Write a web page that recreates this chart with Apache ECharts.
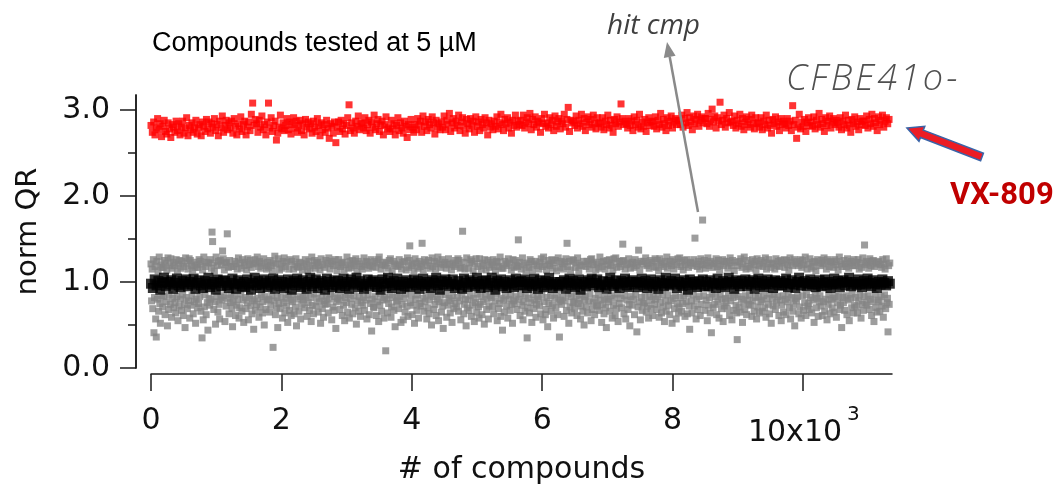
<!DOCTYPE html>
<html><head><meta charset="utf-8">
<script src="https://cdn.jsdelivr.net/npm/echarts@6/dist/echarts.min.js"></script>
<style>html,body{margin:0;padding:0;background:#fff}#c{width:1057px;height:484px}</style>
</head><body><div id="c"></div>
<script>
// ---- data (each plotted sample stands for a run of compounds) ----
const titleText = 'Compounds tested at 5 \u00b5M';
const xName = '# of compounds';
const yName = 'norm QR';
const xTickValues = [0, 2000, 4000, 6000, 8000, 10000];
const xTickLabels = ['0', '2', '4', '6', '8', '10x10^3'];
const yTickValues = [0, 1, 2, 3];
const yMinorTickValues = [0.5, 1.5, 2.5];
const xMax = 11365;
const yMax = 3.174;

// compounds between consecutive plotted samples
const redSampleStep = 20.25;
const graySampleStep = 9.0;
const blackSampleStep = 28.4;

// VX-809 (positive control) normalized QR, in hundredths
const redQRx100 = [
282,274,286,271,279,290,277,284,269,281,288,275,272,285,278,268,283,280,274,287,
276,284,271,280,287,273,279,291,270,282,277,285,274,280,288,272,279,283,270,286,
281,275,289,278,286,273,284,280,290,276,283,270,287,279,293,274,282,288,277,285,
279,287,273,290,281,271,284,278,292,275,283,287,271,280,286,276,295,308,282,289,
284,274,288,280,293,277,283,271,286,308,279,291,275,282,287,265,273,280,294,278,
285,276,282,290,277,286,272,283,291,279,287,274,282,288,276,284,271,289,280,286,
278,284,273,287,280,275,290,282,270,285,277,283,274,288,279,267,284,281,273,286,
262,280,286,275,288,278,284,272,282,291,306,276,285,279,273,287,281,293,277,284,
285,279,291,276,283,288,273,286,280,294,277,284,289,275,282,287,271,283,292,278,
280,275,288,278,284,271,282,291,276,285,279,273,287,281,268,283,277,289,280,274,
283,277,290,282,287,274,293,281,286,276,289,283,279,292,285,272,288,280,284,277,
286,280,293,277,288,283,296,275,285,290,279,287,282,294,276,286,291,281,273,289,
284,278,290,282,287,274,292,281,286,276,289,283,279,291,285,271,288,280,284,277,
287,281,292,278,285,295,283,276,289,284,291,279,286,273,288,282,294,280,287,283,
288,282,294,279,286,291,284,296,277,289,283,292,280,287,285,274,290,284,295,281,
285,279,291,283,288,276,293,281,286,290,278,287,284,295,280,289,303,275,288,285,
287,282,293,279,288,284,295,281,290,276,286,292,283,289,280,294,285,278,291,284,
285,280,291,277,287,283,294,279,288,282,274,289,284,292,281,286,307,290,283,287,
284,279,290,282,287,276,292,283,288,280,295,278,286,281,289,275,285,291,282,287,
286,281,292,278,288,283,296,280,289,284,276,291,282,287,293,279,286,290,283,288,
288,283,294,280,290,285,297,282,291,286,277,293,284,289,295,281,288,292,285,290,
290,284,296,281,289,301,286,293,279,291,287,309,283,288,294,280,290,285,297,286,
287,282,293,279,288,284,295,281,290,277,286,292,283,289,280,294,285,278,291,284,
285,280,291,277,287,283,294,279,288,282,273,289,284,292,281,286,276,290,283,287,
284,279,290,282,287,276,305,283,288,267,280,295,278,286,281,289,275,285,291,282,
286,281,292,278,288,283,296,280,289,284,275,291,282,287,293,279,286,290,283,288,
285,280,291,277,287,283,294,279,288,282,274,289,284,292,281,286,277,290,283,287,
287,282,293,279,289,284,295,281,290,285,276,292,283,288,294,280,287,291,284,289
];

// tested compounds normalized QR, in hundredths (values hidden under the control band omitted)
const grayQRx100 = [
121,78,115,69,126,41,82,118,57,36,124,80,113,66,129,75,52,120,84,117,
71,117,83,125,62,122,77,114,49,128,68,85,119,74,127,59,116,81,123,70,
119,76,64,126,83,113,55,121,72,125,80,116,67,124,85,61,118,74,47,128,
82,122,69,115,78,127,58,125,73,119,84,114,63,123,77,117,52,80,120,70,
117,75,126,83,124,66,121,35,114,56,129,71,85,118,62,123,76,44,122,81,
73,126,80,116,158,147,122,68,113,77,51,129,83,119,65,124,74,57,125,82,
120,79,136,127,84,114,54,122,72,123,156,81,117,63,125,76,85,118,69,48,
77,118,84,124,61,121,73,115,80,128,58,70,122,86,116,66,126,79,53,119,
123,82,69,114,76,127,56,120,84,125,72,117,63,80,121,45,78,126,67,122,
74,129,81,118,59,124,71,116,85,122,64,77,127,50,83,119,68,115,79,123,
117,80,65,125,73,119,84,113,24,122,78,130,62,121,70,82,47,127,75,114,
69,121,83,116,58,124,76,128,64,118,81,72,123,53,85,115,67,126,79,61,
124,77,85,115,63,120,71,127,49,118,80,117,66,123,83,57,122,74,114,82,
79,118,70,126,84,121,60,113,76,124,67,116,82,54,129,73,119,63,86,125,
116,72,122,81,123,65,119,77,114,52,127,84,69,120,59,78,117,74,125,83,
75,122,64,128,80,115,86,121,56,124,71,119,67,83,126,46,77,113,81,120,
126,79,68,118,84,122,61,123,73,114,55,82,120,76,129,65,85,116,58,124,
81,117,74,125,63,121,84,119,70,127,51,113,78,124,66,83,121,60,76,118,
115,73,82,128,67,120,79,124,57,123,85,116,62,119,75,126,43,80,118,71,
70,124,83,117,61,122,77,126,54,129,73,86,115,66,120,79,123,58,82,119,
20,122,80,64,116,75,125,85,127,59,71,113,82,124,67,121,48,119,77,84,
78,118,69,126,83,120,53,115,74,123,56,81,124,65,86,114,72,128,60,117,
125,142,76,84,119,62,121,73,113,52,127,80,122,67,85,116,58,124,75,118,
72,121,145,81,114,66,126,77,123,84,57,119,70,125,63,79,116,86,50,128,
118,83,68,124,74,115,61,122,80,129,55,77,121,85,117,65,126,72,46,120,
76,123,85,116,59,121,73,127,81,120,64,78,114,53,84,122,69,118,75,125,
120,71,82,127,66,125,78,116,56,117,85,159,123,63,74,115,80,49,128,70,
79,116,67,122,84,126,60,124,73,113,81,54,121,76,127,65,86,118,71,58,
127,74,83,115,62,122,77,119,51,126,85,114,68,80,125,57,72,117,84,123,
82,120,71,126,63,118,78,113,86,124,55,123,69,118,75,129,60,81,116,44,
116,79,65,124,84,121,72,119,58,127,80,122,67,85,114,74,52,126,78,117,
75,125,83,119,68,118,149,80,123,61,86,115,73,128,56,77,120,66,84,113,
122,35,70,81,117,64,126,76,124,53,114,85,121,69,79,124,59,74,119,83,
80,115,72,123,63,127,85,118,56,129,77,120,62,68,114,82,48,125,75,121,
119,84,66,126,73,116,58,122,81,125,70,113,85,62,128,77,36,117,79,124,
74,121,82,115,60,123,78,127,67,145,118,86,52,124,71,114,83,64,126,76,
125,77,69,117,84,122,61,128,75,113,80,120,57,72,119,85,66,124,50,79,
83,118,71,124,64,121,78,115,86,126,55,127,68,120,76,123,62,81,114,73,
121,72,85,116,67,129,79,123,53,118,74,124,63,82,115,70,47,125,80,120,
77,126,66,119,84,122,58,114,73,127,81,61,128,69,117,86,54,121,75,124,
118,81,70,124,144,125,63,84,115,57,120,79,122,68,127,74,49,116,83,121,
73,123,80,117,62,126,85,119,42,122,71,137,77,114,56,124,82,67,121,75,
124,76,84,128,65,119,72,121,58,116,83,125,69,79,123,61,86,118,74,127,
80,117,68,125,83,113,59,127,76,120,64,122,85,71,118,54,124,78,66,129,
116,85,73,121,62,124,78,119,52,126,81,115,69,123,84,57,120,75,127,64,
71,128,82,118,66,123,75,114,84,125,60,120,77,126,63,86,117,72,45,122,
123,78,64,119,85,126,72,151,121,57,80,118,68,124,83,115,61,127,74,120,
172,120,84,125,67,116,79,122,55,128,73,119,82,64,124,41,86,117,70,121,
122,74,83,127,62,118,77,125,58,114,85,121,69,80,126,54,119,72,124,81,
76,124,69,116,84,122,61,128,78,119,56,125,82,67,113,85,123,73,64,33,
119,83,71,124,65,127,80,117,53,121,76,129,68,84,115,62,125,79,118,74,
85,116,73,122,60,126,78,120,66,124,82,114,57,127,71,83,119,64,121,77,
125,79,66,118,84,123,70,128,59,115,81,121,74,126,63,86,117,52,122,80,
72,121,85,115,68,127,76,119,83,124,61,118,79,125,55,73,122,84,65,126,
117,80,62,125,77,120,85,114,70,128,57,123,82,119,66,74,126,49,81,121,
78,124,83,119,63,122,71,126,58,117,84,125,67,120,76,129,61,85,115,72,
121,75,68,127,82,116,64,123,79,118,53,124,86,113,70,81,126,60,122,77,
84,119,72,125,61,121,77,128,66,123,80,115,56,126,74,85,118,63,124,79,
123,70,81,117,65,126,83,120,59,124,76,114,84,129,68,73,121,47,118,82,
76,125,67,121,84,118,62,127,79,116,55,122,81,124,70,86,119,64,126,73,
119,82,71,123,64,126,78,115,85,122,58,117,74,128,67,83,143,120,76,124,
73,122,84,116,68,127,80,119,61,124,77,125,54,118,85,70,121,65,123,79,
124,77,66,120,83,117,72,126,59,121,85,115,69,127,76,81,42,119,74,122
];

// DMSO (negative control) normalized QR, in hundredths
const blackQRx100 = [
98,93,103,96,101,91,99,105,95,100,97,102,92,99,104,96,94,101,98,103,
95,100,97,104,92,99,102,96,93,101,98,105,94,97,100,91,103,99,95,102,
101,96,93,99,104,97,92,102,98,95,100,94,103,97,91,99,105,96,101,93,
97,103,99,94,101,96,104,92,98,102,95,100,93,97,103,99,91,101,96,104,
99,94,102,97,92,100,105,95,98,103,93,99,101,96,91,104,97,100,94,102,
96,101,93,98,104,95,100,92,103,97,99,105,94,101,96,92,98,103,95,100,
102,97,94,100,91,103,98,95,105,99,93,101,96,104,97,92,100,95,102,98,
94,99,103,96,101,92,98,104,95,100,97,93,102,99,105,96,91,101,97,103,
100,95,98,103,93,97,101,96,92,104,99,94,102,97,100,95,105,98,93,101,
97,102,94,99,105,96,91,101,98,103,95,100,93,97,102,99,94,104,96,100,
101,96,103,93,98,100,95,104,97,92,102,99,94,101,96,105,98,93,100,97,
95,100,97,102,92,99,104,96,101,94,98,103,91,100,97,95,102,99,104,96,
99,103,94,97,101,96,92,100,105,98,95,102,97,93,101,99,104,96,94,100,
102,97,100,94,99,104,96,101,93,98,103,95,100,97,92,102,99,95,105,98,
96,101,98,104,93,100,97,95,102,99,91,103,96,100,98,94,101,97,103,95,
100,95,102,97,99,93,104,98,96,101,94,99,105,97,100,92,102,98,95,101,
98,103,95,100,97,102,92,99,104,96,101,94,98,103,97,100,93,102,99,96,
101,96,99,104,94,98,102,97,93,100,105,96,99,101,95,98,103,97,100,94,
97,102,95,99,103,96,100,93,98,104,97,101,94,99,102,96,100,105,95,98,
100,96,103,98,94,101,97,104,99,95,102,98,93,100,97,103,99,96,101,98
];

// ---- chart ----
const toPairs = (arr, step) => arr.map((v, i) => [i * step, v / 100]);
const AX = '#1a1a1a';
const FONT = 'DejaVu Sans';
const TXT = '#111';

const chart = echarts.init(document.getElementById('c'), null, {renderer: 'canvas'});
chart.setOption({
  animation: false,
  backgroundColor: '#ffffff',
  grid: {left: 151, right: 165, top: 95, bottom: 116, containLabel: false, outerBoundsMode: 'none'},
  xAxis: {
    type: 'value', min: 0, max: xMax, offset: 6, position: 'bottom',
    axisLine: {onZero: false, lineStyle: {color: AX, width: 1.5}},
    axisTick: {length: 17, customValues: xTickValues, lineStyle: {color: AX, width: 1.5}},
    axisLabel: {show: false},
    splitLine: {show: false},
    name: xName, nameLocation: 'middle', nameGap: 81,
    nameTextStyle: {fontFamily: FONT, fontSize: 30, color: TXT}
  },
  yAxis: [{
    type: 'value', min: 0, max: yMax, offset: 15, position: 'left',
    axisLine: {onZero: false, lineStyle: {color: AX, width: 1.5}},
    axisTick: {length: 16, customValues: yTickValues, lineStyle: {color: AX, width: 1.5}},
    axisLabel: {customValues: yTickValues, margin: 26, fontFamily: FONT, fontSize: 30, color: TXT,
      formatter: v => v.toFixed(1)},
    splitLine: {show: false},
    name: yName, nameLocation: 'middle', nameGap: 93,
    nameTextStyle: {fontFamily: FONT, fontSize: 29, color: TXT}
  }, {
    type: 'value', min: 0, max: yMax, offset: 15, position: 'left',
    axisLine: {show: true, onZero: false, lineStyle: {color: AX, width: 1.5}},
    axisTick: {length: 8, customValues: yMinorTickValues, lineStyle: {color: AX, width: 1.5}},
    axisLabel: {show: false},
    splitLine: {show: false}
  }],
  series: [
    {type: 'scatter', name: 'tested', data: toPairs(grayQRx100, graySampleStep), symbol: 'rect', symbolSize: 7,
     itemStyle: {color: '#858585'}, z: 2},
    {type: 'scatter', name: 'DMSO', data: toPairs(blackQRx100, blackSampleStep), symbol: 'rect', symbolSize: 10,
     itemStyle: {color: '#000000'}, z: 3},
    {type: 'scatter', name: 'VX-809', data: toPairs(redQRx100, redSampleStep), symbol: 'rect', symbolSize: 7,
     itemStyle: {color: '#ff0000'}, z: 4}
  ]
});

// x tick labels placed at the axis's own tick positions
const y0 = chart.convertToPixel({yAxisIndex: 0}, 0);
const tickText = [];
xTickValues.forEach((v, i) => {
  const px = chart.convertToPixel({xAxisIndex: 0}, v);
  const parts = xTickLabels[i].split('^');
  if (parts.length === 1) {
    tickText.push({type: 'text', x: px, y: y0 + 53, style: {text: parts[0], fontFamily: FONT, fontSize: 30, fill: TXT,
      align: 'center', textAlign: 'center', verticalAlign: 'middle', textVerticalAlign: 'middle'}});
  } else {
    tickText.push({type: 'text', x: px - 8, y: y0 + 65, style: {text: parts[0], fontFamily: FONT, fontSize: 30, fill: TXT,
      align: 'center', textAlign: 'center', verticalAlign: 'middle', textVerticalAlign: 'middle'}});
    tickText.push({type: 'text', x: px + 44, y: y0 + 47, style: {text: parts[1], fontFamily: FONT, fontSize: 20, fill: TXT,
      align: 'left', textAlign: 'left', verticalAlign: 'middle', textVerticalAlign: 'middle'}});
  }
});

chart.setOption({
  graphic: tickText.concat([
    {type: 'text', x: 152, y: 44, style: {text: titleText, fontFamily: 'Liberation Sans', fontSize: 27,
      fill: '#000', verticalAlign: 'middle', textVerticalAlign: 'middle'}},
    {type: 'text', x: 607, y: 26, style: {text: 'hit cmp', fontFamily: 'Open Sans', fontStyle: 'italic', fontSize: 28,
      fill: '#404040', verticalAlign: 'middle', textVerticalAlign: 'middle'}},
    {type: 'text', x: 786, y: 80, style: {
      text: '{c|C}{c|F}{c|B}{c|E}{c|4}{c|1}{c|o}{c|-}',
      rich: {c: {fontFamily: 'Open Sans', fontStyle: 'italic', fontWeight: 300, fontSize: 36, fill: '#505050', padding: [0, 3, 0, 0]}},
      verticalAlign: 'middle', textVerticalAlign: 'middle'}},
    {type: 'text', x: 950, y: 196, style: {text: 'VX-809', fontFamily: 'Roboto', fontWeight: 'bold', fontSize: 31,
      fill: '#c00000', verticalAlign: 'middle', textVerticalAlign: 'middle'}},
    {type: 'line', shape: {x1: 698, y1: 212, x2: 669.7, y2: 56.8}, style: {stroke: '#8a8a8a', lineWidth: 2.5}, z: 10},
    {type: 'polygon', shape: {points: [[667, 42], [675.6, 55.7], [663.8, 57.9]]}, style: {fill: '#8a8a8a'}, z: 10},
    {type: 'polygon', shape: {points: [[907, 128], [924.8, 126.3], [923.3, 130.1], [983.4, 153.3], [980.6, 160.7], [920.5, 137.5], [919.0, 141.3]]},
     style: {fill: '#ec1c24', stroke: '#3a64a8', lineWidth: 1.5}, z: 10}
  ])
});
</script>
</body></html>
